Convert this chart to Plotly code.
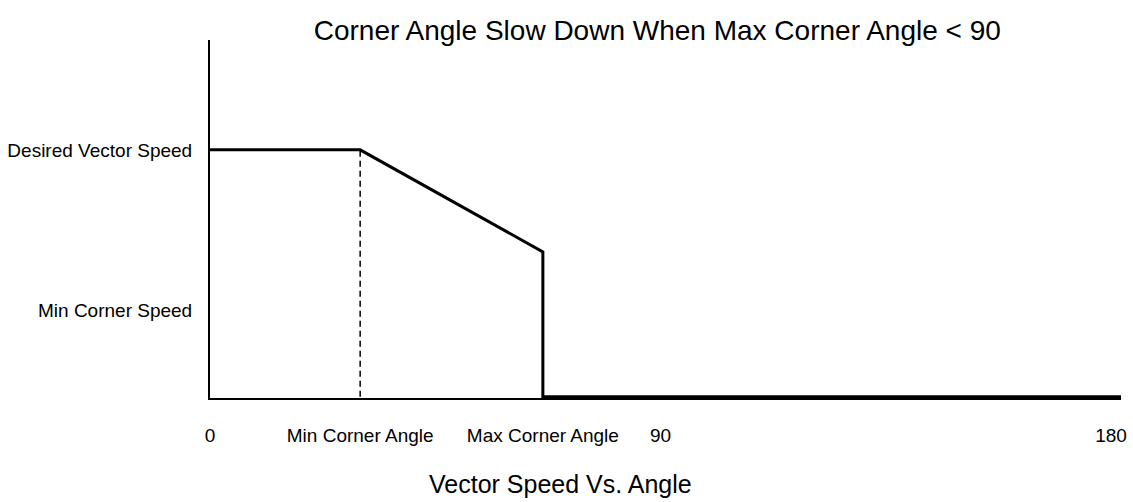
import plotly.graph_objects as go

# Speed profile versus corner angle (degrees); speeds normalised to the desired vector speed
angles = [0, 30, 66.5, 66.5, 182]
speeds = [1.0, 1.0, 0.587, 0.0, 0.0]

# Guide marking the minimum corner angle
min_corner_angle = 30
guide_x = [min_corner_angle, min_corner_angle]
guide_y = [0.0, 1.0]

# Axis tick positions and labels
x_tick_vals = [0, 30, 66.5, 90, 180]
x_tick_text = ["0", "Min Corner Angle", "Max Corner Angle", "90", "180"]
y_tick_vals = [1.0, 0.35]
y_tick_text = ["Desired Vector Speed", "Min Corner Speed"]

FONT = "Liberation Sans, Arial, Helvetica, sans-serif"

fig = go.Figure()
fig.add_trace(go.Scatter(
    x=guide_x, y=guide_y, mode="lines",
    line=dict(color="black", width=1.5, dash="6px,4px"),
    hoverinfo="skip", showlegend=False,
))
fig.add_trace(go.Scatter(
    x=angles, y=speeds, mode="lines",
    line=dict(color="black", width=3),
    showlegend=False,
))

fig.update_layout(
    width=1133, height=502,
    margin=dict(l=210, r=12, t=40, b=104),
    paper_bgcolor="white", plot_bgcolor="white",
    font=dict(family=FONT, color="black"),
    title=dict(
        text="Corner Angle Slow Down When Max Corner Angle < 90",
        font=dict(size=28, family=FONT, color="black"),
        xref="paper", x=0.491, xanchor="center",
        yref="container", y=1 - 30 / 502, yanchor="middle",
    ),
    xaxis=dict(
        range=[0, 182], showgrid=False, zeroline=False, automargin=False,
        showline=True, linecolor="black", linewidth=1.5,
        tickmode="array", tickvals=x_tick_vals, ticktext=x_tick_text,
        ticks="", tickfont=dict(size=19, family=FONT, color="black"),
        ticklabelstandoff=19,
    ),
    yaxis=dict(
        range=[-0.005, 1.445], showgrid=False, zeroline=False, automargin=False,
        showline=True, linecolor="black", linewidth=2,
        tickmode="array", tickvals=y_tick_vals, ticktext=y_tick_text,
        ticks="", tickfont=dict(size=19, family=FONT, color="black"),
        ticklabelstandoff=12,
    ),
    annotations=[dict(
        text="Vector Speed Vs. Angle",
        xref="paper", yref="paper",
        x=(560 - 210) / 911, y=(398 - 484) / 358,
        xanchor="center", yanchor="middle", showarrow=False,
        font=dict(size=25, family=FONT, color="black"),
    )],
)

fig.write_html("out.html")
